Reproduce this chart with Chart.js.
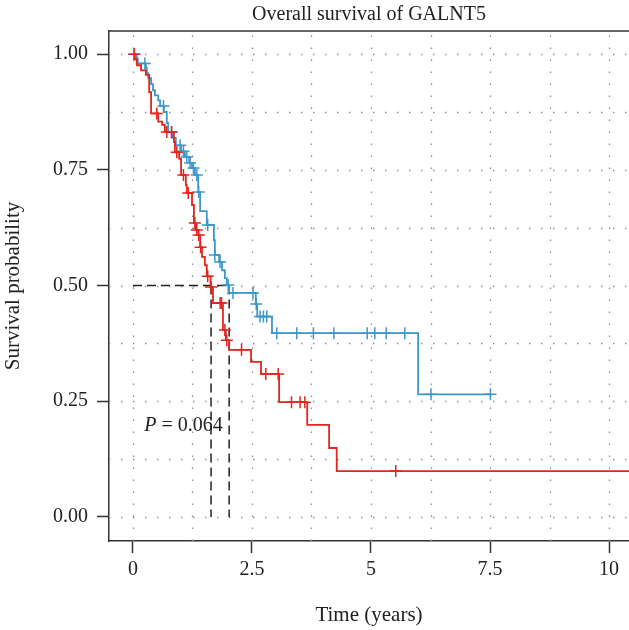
<!DOCTYPE html>
<html>
<head>
<meta charset="utf-8">
<title>Overall survival of GALNT5</title>
<script src="https://cdn.jsdelivr.net/npm/chart.js@4.4.1/dist/chart.umd.min.js"></script>
<style>
  html, body { margin: 0; padding: 0; background: #fff; }
  #wrap { width: 629px; height: 630px; }
</style>
</head>
<body>
<div id="wrap"><canvas id="km" width="629" height="630"></canvas></div>
<script>
// Kaplan-Meier steps: time (years) and survival right after the drop
const redTime = [0, 0.04, 0.08, 0.17, 0.27, 0.34, 0.38, 0.53, 0.61, 0.67, 0.86, 0.88, 0.97, 1.01, 1.11, 1.13,
  1.24, 1.28, 1.32, 1.37, 1.41, 1.45, 1.51, 1.55, 1.63, 1.68, 1.89, 1.95, 2.02, 2.48, 2.69, 3.07, 3.66, 4.12, 4.28, 10.8];
const redSurv = [1, 0.989, 0.976, 0.965, 0.955, 0.918, 0.872, 0.854, 0.847, 0.832, 0.81, 0.788, 0.774, 0.739, 0.717, 0.70,
  0.674, 0.635, 0.62, 0.609, 0.583, 0.562, 0.544, 0.52, 0.497, 0.462, 0.404, 0.382, 0.361, 0.335, 0.309, 0.248, 0.199, 0.149, 0.099, 0.099];
const redCensor = [0.03, 0.50, 0.71, 0.81, 0.92, 1.06, 1.16, 1.30, 1.34, 1.38, 1.42, 1.57, 1.64, 1.83, 1.86, 1.93, 1.97,
  2.28, 2.79, 3.05, 3.33, 3.51, 3.61, 5.52];

const blueTime = [0, 0.08, 0.10, 0.27, 0.29, 0.32, 0.38, 0.42, 0.46, 0.53, 0.57, 0.65, 0.71, 0.74, 0.82, 0.90, 1.01, 1.09,
  1.18, 1.24, 1.30, 1.37, 1.41, 1.55, 1.70, 1.72, 1.81, 1.87, 1.93, 1.97, 2.02, 2.58, 2.61, 2.92, 5.99, 7.51];
const blueSurv = [1, 0.991, 0.98, 0.97, 0.959, 0.948, 0.935, 0.922, 0.911, 0.90, 0.888, 0.875, 0.851, 0.832, 0.819, 0.803, 0.79, 0.778,
  0.765, 0.754, 0.739, 0.702, 0.661, 0.631, 0.598, 0.566, 0.551, 0.533, 0.516, 0.501, 0.484, 0.46, 0.433, 0.397, 0.265, 0.265];
const blueCensor = [0.02, 0.25, 0.64, 0.81, 0.99, 1.06, 1.13, 1.20, 1.27, 1.34, 1.38, 1.57, 1.72, 1.83, 2.0, 2.10, 2.52, 2.59,
  2.67, 2.74, 2.81, 3.02, 3.44, 3.79, 4.22, 4.92, 5.08, 5.32, 5.71, 6.26, 7.51];

// median survival guide lines
const medianRed = 1.64;
const medianBlue = 2.02;

// axes
const xTicks = [0, 2.5, 5, 7.5, 10];
const xTickLabels = ['0', '2.5', '5', '7.5', '10'];
const yTicks = [0, 0.25, 0.5, 0.75, 1];
const yTickLabels = ['0.00', '0.25', '0.50', '0.75', '1.00'];
const xGrid = [0, 1.25, 2.5, 3.75, 5, 6.25, 7.5, 8.75, 10];
const yGrid = [0, 0.125, 0.25, 0.375, 0.5, 0.625, 0.75, 0.875, 1];

const RED = '#E0261E';
const BLUE = '#3E97C9';
const SERIF = "'Liberation Serif', 'Times New Roman', serif";

// survival level of a curve at time t (for placing censor marks)
function levelAt(times, surv, t) {
  let s = surv[0];
  for (let i = 0; i < times.length; i++) {
    if (times[i] <= t) s = surv[i];
  }
  return s;
}

const toPoints = (xs, ys) => xs.map((x, i) => ({ x: x, y: ys[i] }));

const dottedGrid = {
  id: 'dottedGrid',
  beforeDatasetsDraw(chart) {
    const { ctx, chartArea: a, scales: { x, y } } = chart;
    ctx.save();
    ctx.strokeStyle = '#8c8c8c';
    ctx.lineWidth = 1.3;
    ctx.setLineDash([1.4, 10.6]);
    xGrid.forEach(v => {
      const px = Math.round(x.getPixelForValue(v)) + 0.5;
      ctx.beginPath();
      ctx.moveTo(px, a.bottom);
      ctx.lineTo(px, a.top);
      ctx.stroke();
    });
    yGrid.forEach(v => {
      const py = Math.round(y.getPixelForValue(v)) + 0.5;
      ctx.beginPath();
      ctx.moveTo(a.left, py);
      ctx.lineTo(a.right, py);
      ctx.stroke();
    });
    // top frame line
    ctx.setLineDash([]);
    ctx.strokeStyle = '#333';
    ctx.lineWidth = 1.5;
    ctx.beginPath();
    ctx.moveTo(a.left, a.top);
    ctx.lineTo(a.right, a.top);
    ctx.stroke();
    ctx.restore();
  }
};

const labels = {
  id: 'labels',
  afterDraw(chart) {
    const { ctx, chartArea: a, scales: { x, y } } = chart;
    ctx.save();
    ctx.fillStyle = '#222';
    ctx.textBaseline = 'middle';
    ctx.font = '20px ' + SERIF;
    ctx.textAlign = 'center';
    ctx.fillText('Overall survival of GALNT5', (a.left + a.right) / 2, 15);

    // p-value annotation
    const px = x.getPixelForValue(0.237);
    const py = y.getPixelForValue(0.197);
    ctx.textAlign = 'left';
    ctx.font = 'italic 20px ' + SERIF;
    ctx.fillText('P', px, py);
    const w = ctx.measureText('P').width;
    ctx.font = '20px ' + SERIF;
    ctx.fillText(' = 0.064', px + w, py);
    ctx.restore();
  }
};

const dashed = {
  borderColor: '#222',
  borderWidth: 1.5,
  borderDash: [9, 5],
  pointRadius: 0,
  showLine: true,
  order: 3
};

new Chart(document.getElementById('km'), {
  type: 'scatter',
  data: {
    datasets: [
      {
        label: 'Low',
        data: toPoints(blueTime, blueSurv),
        showLine: true,
        stepped: 'before',
        borderColor: BLUE,
        borderWidth: 1.8,
        pointRadius: 0,
        order: 2
      },
      {
        label: 'High',
        data: toPoints(redTime, redSurv),
        showLine: true,
        stepped: 'before',
        borderColor: RED,
        borderWidth: 1.8,
        pointRadius: 0,
        order: 1
      },
      {
        label: 'Low censored',
        data: blueCensor.map(t => ({ x: t, y: levelAt(blueTime, blueSurv, t) })),
        pointStyle: 'cross',
        pointRadius: 6,
        pointBorderWidth: 1.5,
        borderColor: BLUE,
        order: 1
      },
      {
        label: 'High censored',
        data: redCensor.map(t => ({ x: t, y: levelAt(redTime, redSurv, t) })),
        pointStyle: 'cross',
        pointRadius: 6,
        pointBorderWidth: 1.5,
        borderColor: RED,
        order: 0
      },
      Object.assign({ data: [{ x: 0, y: 0.5 }, { x: medianBlue, y: 0.5 }] }, dashed),
      Object.assign({ data: [{ x: medianRed, y: 0.5 }, { x: medianRed, y: 0 }] }, dashed),
      Object.assign({ data: [{ x: medianBlue, y: 0.5 }, { x: medianBlue, y: 0 }] }, dashed)
    ]
  },
  options: {
    responsive: false,
    animation: false,
    devicePixelRatio: 1,
    layout: { autoPadding: false, padding: { top: 31, left: 0, right: 0, bottom: 0 } },
    plugins: {
      legend: { display: false },
      tooltip: { enabled: false },
      title: { display: false }
    },
    scales: {
      x: {
        type: 'linear',
        min: -0.504,
        max: 10.42,
        afterBuildTicks: s => { s.ticks = xTicks.map(v => ({ value: v })); },
        afterFit: s => { s.height = 89; s.paddingLeft = 0; s.paddingRight = 0; },
        border: { color: '#333', width: 1.5 },
        grid: { drawOnChartArea: false, tickLength: 12, tickColor: '#333', tickWidth: 1.5 },
        ticks: {
          color: '#222',
          font: { family: SERIF, size: 20 },
          padding: 5,
          maxRotation: 0,
          autoSkip: false,
          callback: v => xTickLabels[xTicks.indexOf(v)]
        },
        title: {
          display: true,
          text: 'Time (years)',
          color: '#222',
          font: { family: SERIF, size: 21 },
          padding: { top: 0, bottom: 2 }
        }
      },
      y: {
        type: 'linear',
        min: -0.052,
        max: 1.05,
        afterBuildTicks: s => { s.ticks = yTicks.map(v => ({ value: v })); },
        afterFit: s => { s.width = 109; s.paddingTop = 0; s.paddingBottom = 0; },
        border: { color: '#333', width: 1.5 },
        grid: { drawOnChartArea: false, tickLength: 12, tickColor: '#333', tickWidth: 1.5 },
        ticks: {
          color: '#222',
          font: { family: SERIF, size: 20 },
          padding: 9,
          autoSkip: false,
          callback: v => yTickLabels[yTicks.indexOf(v)]
        },
        title: {
          display: true,
          text: 'Survival probability',
          color: '#222',
          font: { family: SERIF, size: 21 },
          padding: { top: 1, bottom: 0 }
        }
      }
    }
  },
  plugins: [dottedGrid, labels]
});
</script>
</body>
</html>
